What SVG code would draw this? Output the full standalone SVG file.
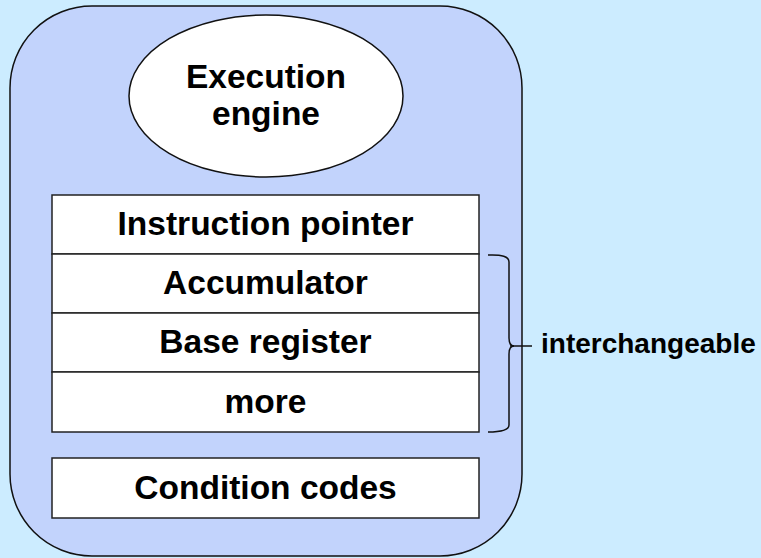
<svg xmlns="http://www.w3.org/2000/svg" width="761" height="558" viewBox="0 0 761 558">
<style>
.t{font-family:"Liberation Sans",Arial,sans-serif;font-weight:bold;fill:#000;text-anchor:middle;font-size:33.5px}
.cell{fill:#fff;stroke:#222;stroke-width:1.5}
</style>
<rect width="761" height="558" fill="#CCECFF"/>
<g id="cpu">
<rect x="10" y="6" width="512" height="550" rx="82" ry="82" fill="#C2D3FC" stroke="#111" stroke-width="1.5"/>
</g>
<g id="engine">
<ellipse cx="266" cy="96" rx="137" ry="81" fill="#fff" stroke="#111" stroke-width="1.5"/>
<text class="t" x="266" y="88">Execution</text>
<text class="t" x="266" y="125">engine</text>
</g>
<g id="ip">
<rect class="cell" x="52" y="195" width="427" height="59"/>
<text class="t" x="265.5" y="235">Instruction pointer</text>
</g>
<g id="acc">
<rect class="cell" x="52" y="254" width="427" height="59"/>
<text class="t" x="265.5" y="294">Accumulator</text>
</g>
<g id="base">
<rect class="cell" x="52" y="313" width="427" height="59"/>
<text class="t" x="265.5" y="353">Base register</text>
</g>
<g id="more">
<rect class="cell" x="52" y="372" width="427" height="60"/>
<text class="t" x="265.5" y="413">more</text>
</g>
<g id="cc">
<rect class="cell" x="52" y="458" width="427" height="60"/>
<text class="t" x="265.5" y="499">Condition codes</text>
</g>
<g id="connectors" fill="none" stroke="#111" stroke-width="1.5">
<path d="M488,255 Q509,254 509,262 V338 Q509,346 514,346 Q509,346 509,354 V425 Q509,432 488,432"/>
<line x1="510" y1="346" x2="532" y2="346"/>
</g>
<g id="label">
<text x="541" y="353" style="font-family:'Liberation Sans',Arial,sans-serif;font-weight:bold;font-size:28px">interchangeable</text>
</g>
</svg>
